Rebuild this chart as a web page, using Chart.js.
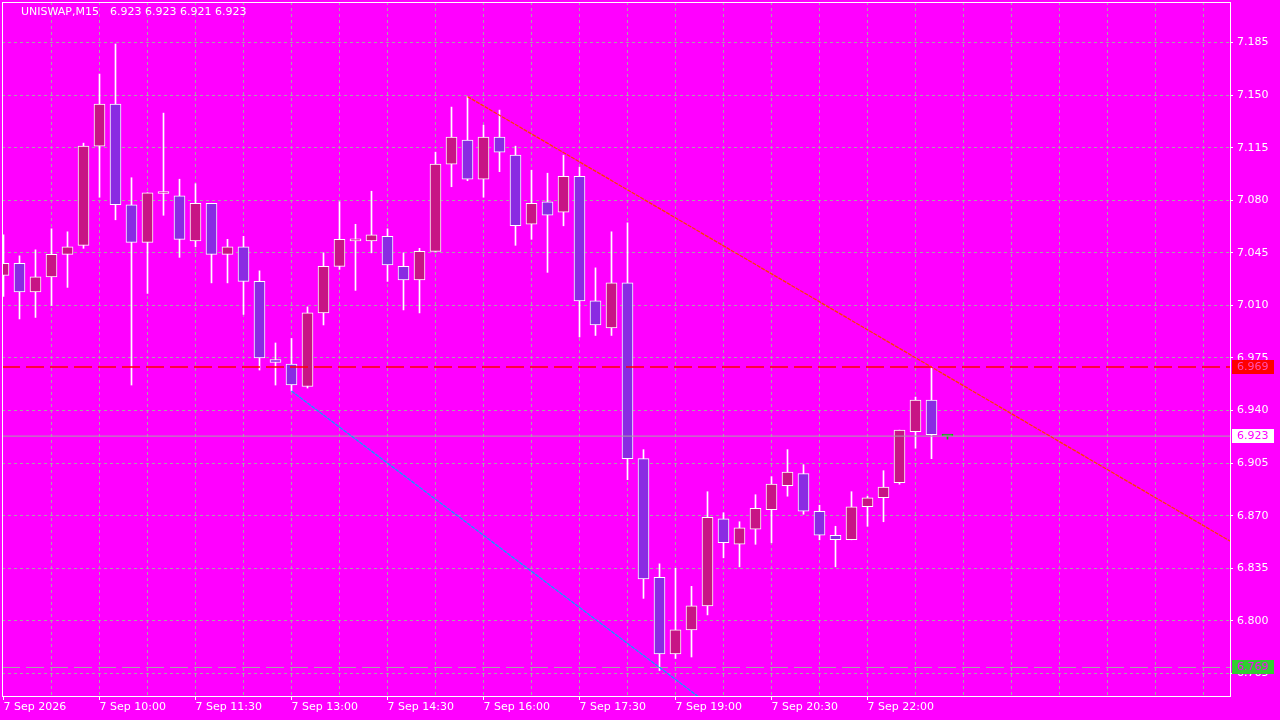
<!DOCTYPE html>
<html>
<head>
<meta charset="utf-8">
<title>UNISWAP,M15</title>
<script src="https://cdn.jsdelivr.net/npm/chart.js@4.4.1/dist/chart.umd.min.js"></script>
<style>
  html, body { margin: 0; padding: 0; background: #ff00ff; overflow: hidden; }
  #chart { display: block; }
</style>
</head>
<body>
<canvas id="chart" width="1280" height="720"></canvas>
<script>
// UNISWAP M15 bars, 7 Sep 08:30 .. 23:15 (one entry per bar)
const opens  = [7.030, 7.038, 7.019, 7.029, 7.044, 7.050, 7.116, 7.144, 7.077, 7.052,
                7.0845, 7.083, 7.053, 7.078, 7.044, 7.049, 7.026, 6.974, 6.971, 6.956,
                7.005, 7.036, 7.053, 7.053, 7.056, 7.036, 7.027, 7.046, 7.104, 7.120,
                7.094, 7.122, 7.110, 7.064, 7.079, 7.072, 7.096, 7.013, 6.995, 7.025,
                6.908, 6.829, 6.778, 6.794, 6.810, 6.868, 6.851, 6.861, 6.874, 6.890,
                6.898, 6.873, 6.857, 6.854, 6.876, 6.882, 6.892, 6.926, 6.947, 6.923];
const highs  = [7.057, 7.043, 7.047, 7.061, 7.059, 7.118, 7.164, 7.184, 7.095, 7.085,
                7.138, 7.094, 7.091, 7.078, 7.054, 7.056, 7.033, 6.985, 6.988, 7.009,
                7.045, 7.079, 7.064, 7.086, 7.061, 7.045, 7.048, 7.112, 7.142, 7.149,
                7.130, 7.140, 7.116, 7.100, 7.098, 7.110, 7.102, 7.035, 7.059, 7.065,
                6.914, 6.838, 6.835, 6.823, 6.886, 6.872, 6.866, 6.884, 6.896, 6.914,
                6.904, 6.877, 6.863, 6.886, 6.883, 6.900, 6.927, 6.949, 6.969, 6.923];
const lows   = [7.016, 7.001, 7.002, 7.010, 7.022, 7.048, 7.082, 7.067, 6.957, 7.018,
                7.070, 7.042, 7.049, 7.025, 7.025, 7.004, 6.967, 6.957, 6.953, 6.955,
                6.997, 7.034, 7.020, 7.045, 7.026, 7.007, 7.005, 7.046, 7.089, 7.093,
                7.082, 7.099, 7.050, 7.054, 7.032, 7.063, 6.989, 6.990, 6.990, 6.894,
                6.815, 6.767, 6.775, 6.776, 6.804, 6.842, 6.836, 6.851, 6.852, 6.883,
                6.871, 6.854, 6.836, 6.854, 6.863, 6.866, 6.891, 6.915, 6.908, 6.921];
const closes = [7.038, 7.019, 7.029, 7.044, 7.049, 7.116, 7.144, 7.077, 7.052, 7.085,
                7.0845, 7.054, 7.078, 7.044, 7.049, 7.026, 6.975, 6.972, 6.957, 7.005,
                7.036, 7.054, 7.054, 7.057, 7.037, 7.027, 7.046, 7.104, 7.122, 7.094,
                7.122, 7.112, 7.063, 7.078, 7.070, 7.096, 7.013, 6.997, 7.025, 6.908,
                6.828, 6.778, 6.794, 6.810, 6.869, 6.852, 6.862, 6.875, 6.891, 6.899,
                6.873, 6.857, 6.854, 6.876, 6.882, 6.889, 6.927, 6.947, 6.924, 6.923];

// time labels, one every 6 bars (90 min)
const timeLabels = ['7 Sep 2026', '7 Sep 10:00', '7 Sep 11:30', '7 Sep 13:00', '7 Sep 14:30',
                    '7 Sep 16:00', '7 Sep 17:30', '7 Sep 19:00', '7 Sep 20:30', '7 Sep 22:00'];

// price scale labels
const priceTicks = [7.185, 7.150, 7.115, 7.080, 7.045, 7.010, 6.975, 6.940, 6.905, 6.870, 6.835, 6.800, 6.765];

// trend lines: [bar index, price]
const resistanceLine = [[29, 7.149], [77, 6.851]];
const supportLine = [[18, 6.953], [50, 6.697]];

// horizontal levels
const levelPrice = 6.969;
const lowPrice = 6.769;
const bidPrice = 6.923;

const headerSymbol = 'UNISWAP,M15';
const headerQuote = '6.923 6.923 6.921 6.923';

// Colors
const bullColor = '#c71585';
const bearColor = '#8a2be2';
const gridColor = '#a4a4a4';
const FONT = { family: 'DejaVu Sans', size: 11 };

const lastIndex = closes.length - 1;
const bodyColors = closes.map((c, i) => i === lastIndex ? 'transparent' : (c >= opens[i] ? bullColor : bearColor));
const edgeColors = closes.map((c, i) => i === lastIndex ? '#00c000' : '#ffffff');

const wickData = highs.map((h, i) => ({ x: i, y: [lows[i], h] }));
const bodyData = opens.map((o, i) => ({ x: i, y: [o, closes[i]] }));
const toPoints = (pairs) => pairs.map(p => ({ x: p[0], y: p[1] }));

const xMin = -0.09375;
const xMax = 76.65625;
const hLine = (price) => [{ x: xMin, y: price }, { x: xMax, y: price }];

// Price tags on the right side + header + frame
const overlayPlugin = {
  id: 'overlay',
  afterDraw(chart) {
    const ctx = chart.ctx;
    const y = chart.scales.y;
    const area = chart.chartArea;
    ctx.save();

    // frame
    ctx.strokeStyle = '#ffffff';
    ctx.lineWidth = 1;
    ctx.strokeRect(area.left + 0.5, area.top + 0.5, area.right - area.left, area.bottom - area.top);

    // tags
    const tags = [
      { value: levelPrice, bg: '#ff0000', fg: '#ff50b4' },
      { value: bidPrice, bg: '#ffffff', fg: '#ff00ff' },
      { value: lowPrice, bg: '#32cd32', fg: '#ff00ff' }
    ];
    ctx.font = '11px "DejaVu Sans"';
    ctx.textBaseline = 'middle';
    ctx.textAlign = 'left';
    tags.forEach(t => {
      const py = Math.round(y.getPixelForValue(t.value));
      ctx.fillStyle = t.bg;
      ctx.fillRect(area.right + 2, py - 7, 42, 14);
      ctx.fillStyle = t.fg;
      ctx.fillText(t.value.toFixed(3), area.right + 7, py);
    });

    // header
    ctx.fillStyle = '#ffffff';
    ctx.fillText(headerSymbol, 21, 12);
    ctx.fillText(headerQuote, 110, 12);
    ctx.restore();
  }
};

const chart = new Chart(document.getElementById('chart'), {
  type: 'bar',
  data: {
    datasets: [
      {
        type: 'line', data: toPoints(resistanceLine), borderColor: '#ff3c00', borderWidth: 1.3,
        borderDash: [4, 1], pointRadius: 0, order: 0
      },
      {
        type: 'line', data: toPoints(supportLine), borderColor: '#00a8ff', borderWidth: 1.3,
        borderDash: [4, 1], pointRadius: 0, order: 0
      },
      {
        type: 'line', data: hLine(levelPrice), borderColor: '#ff0000', borderWidth: 1.3,
        borderDash: [18, 6], pointRadius: 0, order: 0
      },
      {
        type: 'line', data: hLine(lowPrice), borderColor: gridColor, borderWidth: 1,
        borderDash: [18, 6], pointRadius: 0, order: 0
      },
      {
        type: 'line', data: hLine(bidPrice), borderColor: gridColor, borderWidth: 1,
        pointRadius: 0, order: 0
      },
      {
        data: bodyData, backgroundColor: bodyColors, borderColor: edgeColors, borderWidth: 1,
        borderSkipped: false, barThickness: 11, minBarLength: 2, grouped: false, order: 1
      },
      {
        data: wickData, backgroundColor: edgeColors, borderWidth: 0,
        barThickness: 1, grouped: false, order: 2
      }
    ]
  },
  options: {
    responsive: false,
    animation: false,
    events: [],
    layout: { padding: { left: 2, top: 2, right: 0, bottom: 0 } },
    plugins: { legend: { display: false }, tooltip: { enabled: false }, title: { display: false } },
    scales: {
      x: {
        type: 'linear',
        min: xMin,
        max: xMax,
        offset: false,
        afterBuildTicks: (scale) => {
          const ticks = [];
          for (let v = 0; v <= 75; v += 3) ticks.push({ value: v });
          scale.ticks = ticks;
        },
        afterFit: (scale) => {
          scale.height = 24;
          scale.paddingLeft = 0;
          scale.paddingRight = 0;
        },
        grid: {
          offset: false,
          color: (ctx) => (ctx.tick && ctx.tick.value === 0 ? 'transparent' : gridColor),
          lineWidth: 1,
          drawTicks: true,
          tickLength: 4,
          tickColor: (ctx) => (ctx.tick && ctx.tick.value % 6 === 0 && ctx.tick.value / 6 < timeLabels.length ? '#ffffff' : 'transparent')
        },
        border: { display: false, dash: [3, 3] },
        ticks: {
          autoSkip: false,
          maxRotation: 0,
          minRotation: 0,
          align: 'start',
          padding: 1,
          color: '#ffffff',
          font: FONT,
          callback: (value) => (value % 6 === 0 && timeLabels[value / 6] ? timeLabels[value / 6] : '')
        }
      },
      y: {
        type: 'linear',
        position: 'right',
        min: 6.750023,
        max: 7.211957,
        beginAtZero: false,
        afterBuildTicks: (scale) => {
          scale.ticks = priceTicks.map(v => ({ value: v }));
        },
        afterFit: (scale) => {
          scale.width = 50;
          scale.paddingTop = 0;
          scale.paddingBottom = 0;
        },
        grid: {
          color: gridColor,
          lineWidth: 1,
          drawTicks: true,
          tickLength: 3,
          tickColor: '#ffffff'
        },
        border: { display: false, dash: [3, 3] },
        ticks: {
          padding: 4,
          color: '#ffffff',
          font: FONT,
          callback: (value) => Number(value).toFixed(3)
        }
      }
    }
  },
  plugins: [overlayPlugin]
});
</script>
</body>
</html>
